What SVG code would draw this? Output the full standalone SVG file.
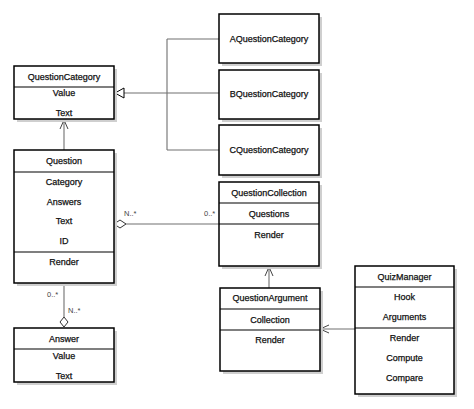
<svg xmlns="http://www.w3.org/2000/svg" width="474" height="409" viewBox="0 0 474 409">
<defs>
<style>
.box{fill:#fff;stroke:#000;stroke-width:1.5}
.sh{fill:#cfcfcf}
.dv{stroke:#000;stroke-width:1.2}
text{font-family:"Liberation Sans",Arial,sans-serif;font-size:9px;fill:#111;stroke:#111;stroke-width:0.25;text-anchor:middle;dominant-baseline:central}
.m{font-size:7.5px;fill:#444;stroke:none;text-anchor:start}
.ln{fill:none;stroke:#707070;stroke-width:1.1}
</style>
<marker id="open" markerWidth="12" markerHeight="12" refX="10" refY="5" orient="auto" markerUnits="userSpaceOnUse">
<path d="M1,1 L10,5 L1,9" fill="none" stroke="#444" stroke-width="1"/>
</marker>
</defs>
<rect width="474" height="409" fill="#fff"/>
<g id="connectors">
<path class="ln" d="M124,93 H167 M167,39 V150 M167,39 H219 M167,93 H219 M167,150 H219"/>
<path d="M115,93 L124,88 L124,98 Z" fill="#fff" stroke="#000" stroke-width="1"/>
<path class="ln" d="M64,150 V120" marker-end="url(#open)"/>
<path class="ln" d="M126,224 H219"/>
<path d="M114,224 L120,220 L126,224 L120,228 Z" fill="#fff" stroke="#333" stroke-width="1"/>
<text class="m" x="124" y="213">N..*</text>
<text class="m" x="204" y="213">0..*</text>
<path class="ln" d="M269,288 V267" marker-end="url(#open)"/>
<path class="ln" d="M355,329 H320" marker-end="url(#open)"/>
<path class="ln" d="M64,284 V317"/>
<path d="M64,317 L60,322 L64,327 L68,322 Z" fill="#fff" stroke="#333" stroke-width="1"/>
<text class="m" x="47" y="294">0..*</text>
<text class="m" x="68" y="310">N..*</text>
</g>
<g id="QuestionCategory">
<rect class="sh" x="17" y="69" width="100" height="53"/>
<rect class="box" x="14" y="66" width="100" height="53"/>
<line class="dv" x1="14" y1="87" x2="114" y2="87"/>
<text x="64" y="77">QuestionCategory</text>
<text x="64" y="93">Value</text>
<text x="64" y="113">Text</text>
</g>
<g id="AQuestionCategory">
<rect class="sh" x="222" y="17" width="100" height="49"/>
<rect class="box" x="219" y="14" width="100" height="49"/>
<text x="269" y="39">AQuestionCategory</text>
</g>
<g id="BQuestionCategory">
<rect class="sh" x="222" y="73" width="100" height="49"/>
<rect class="box" x="219" y="70" width="100" height="49"/>
<text x="269" y="94">BQuestionCategory</text>
</g>
<g id="CQuestionCategory">
<rect class="sh" x="222" y="128" width="100" height="50"/>
<rect class="box" x="219" y="125" width="100" height="50"/>
<text x="269" y="150">CQuestionCategory</text>
</g>
<g id="Question">
<rect class="sh" x="17" y="153" width="100" height="133"/>
<rect class="box" x="14" y="150" width="100" height="133"/>
<line class="dv" x1="14" y1="172" x2="114" y2="172"/>
<line class="dv" x1="14" y1="252" x2="114" y2="252"/>
<text x="64" y="161">Question</text>
<text x="64" y="182">Category</text>
<text x="64" y="202">Answers</text>
<text x="64" y="221">Text</text>
<text x="64" y="241">ID</text>
<text x="64" y="262">Render</text>
</g>
<g id="QuestionCollection">
<rect class="sh" x="222" y="185" width="100" height="84"/>
<rect class="box" x="219" y="182" width="100" height="84"/>
<line class="dv" x1="219" y1="203" x2="319" y2="203"/>
<line class="dv" x1="219" y1="224" x2="319" y2="224"/>
<text x="269" y="193">QuestionCollection</text>
<text x="269" y="214">Questions</text>
<text x="269" y="235">Render</text>
</g>
<g id="QuestionArgument">
<rect class="sh" x="223" y="291" width="100" height="83"/>
<rect class="box" x="220" y="288" width="100" height="83"/>
<line class="dv" x1="220" y1="309" x2="320" y2="309"/>
<line class="dv" x1="220" y1="330" x2="320" y2="330"/>
<text x="270" y="298">QuestionArgument</text>
<text x="270" y="320">Collection</text>
<text x="270" y="340">Render</text>
</g>
<g id="QuizManager">
<rect class="sh" x="358" y="269" width="99" height="128"/>
<rect class="box" x="355" y="266" width="99" height="128"/>
<line class="dv" x1="355" y1="287" x2="454" y2="287"/>
<line class="dv" x1="355" y1="328" x2="454" y2="328"/>
<text x="404.5" y="277">QuizManager</text>
<text x="404.5" y="297">Hook</text>
<text x="404.5" y="317">Arguments</text>
<text x="404.5" y="338">Render</text>
<text x="404.5" y="358">Compute</text>
<text x="404.5" y="378">Compare</text>
</g>
<g id="Answer">
<rect class="sh" x="17" y="331" width="100" height="54"/>
<rect class="box" x="14" y="328" width="100" height="54"/>
<line class="dv" x1="14" y1="349" x2="114" y2="349"/>
<text x="64" y="339">Answer</text>
<text x="64" y="356">Value</text>
<text x="64" y="376">Text</text>
</g>
</svg>
